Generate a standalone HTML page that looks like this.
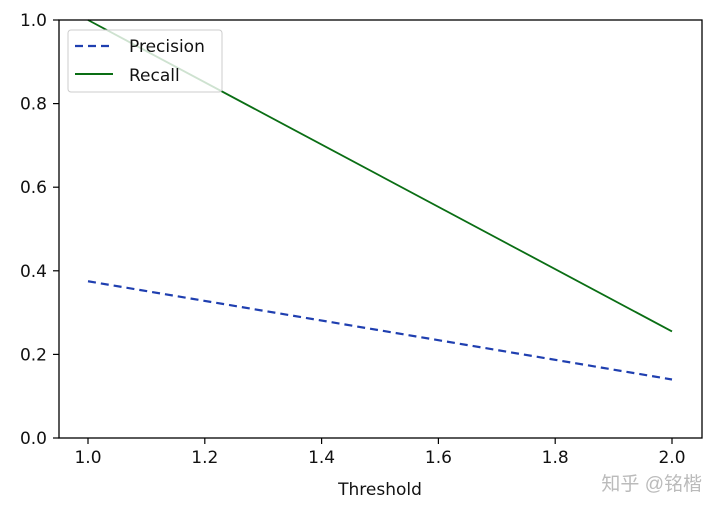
<!DOCTYPE html>
<html><head><meta charset="utf-8"><style>
body{margin:0;background:#fff;width:720px;height:511px;overflow:hidden;font-family:"DejaVu Sans","Liberation Sans",sans-serif}
</style></head><body>
<svg id="chart" width="720" height="511" xmlns="http://www.w3.org/2000/svg">
<rect x="0" y="0" width="720" height="511" fill="#fff"/>
</svg>
<script>
const thresholds=[1.0,2.0];
const precision=[0.375,0.14];
const recall=[1.0,0.255];
const xTicks=[1.0,1.2,1.4,1.6,1.8,2.0];
const yTicks=[0.0,0.2,0.4,0.6,0.8,1.0];
const L=59,R=702,T=20,B=438;
const sx=v=>88+(v-1)*(672-88);
const sy=v=>B-v*(B-T);
const svg=document.getElementById('chart');
const NS='http://www.w3.org/2000/svg';
function mk(tag,attrs,parent){const e=document.createElementNS(NS,tag);for(const k in attrs)e.setAttribute(k,attrs[k]);(parent||svg).appendChild(e);return e;}
const grp=mk('g',{});


xTicks.forEach(t=>{
 const l=mk('line',{x1:sx(t),x2:sx(t),y1:B,y2:B+6,stroke:'#000','stroke-width':1.2});
 
 
 const tx=mk('text',{x:sx(t),y:B+25,'text-anchor':'middle','font-size':17,fill:'#111'});
 tx.textContent=t.toFixed(1);
 
 
});
yTicks.forEach(t=>{
 const l=mk('line',{x1:L-6,x2:L,y1:sy(t),y2:sy(t),stroke:'#000','stroke-width':1.2});
 
 
 const tx=mk('text',{x:L-12,y:sy(t)+6,'text-anchor':'end','font-size':17,fill:'#111'});
 tx.textContent=t.toFixed(1);
 
 
});
const pl=mk('polyline',{points:thresholds.map((x,i)=>sx(x)+','+sy(precision[i])).join(' '),fill:'none',stroke:'#1f3fb0','stroke-width':2.2,'stroke-dasharray':'8,5'});


const rl=mk('polyline',{points:thresholds.map((x,i)=>sx(x)+','+sy(recall[i])).join(' '),fill:'none',stroke:'#0a6e14','stroke-width':1.8});


const frame=mk('rect',{x:L,y:T,width:R-L,height:B-T,fill:'none',stroke:'#000','stroke-width':1.3});


const lg=mk('g',{});


mk('rect',{x:68,y:30,width:154,height:62,rx:3,fill:'rgba(255,255,255,0.8)',stroke:'#ccc'},lg);
const e1=mk('line',{x1:75,x2:113,y1:46,y2:46,stroke:'#1f3fb0','stroke-width':2.2,'stroke-dasharray':'8,5'},lg);


const t1=mk('text',{x:129,y:52,'font-size':17,fill:'#111'},lg);t1.textContent='Precision';


const e2=mk('line',{x1:75,x2:113,y1:74,y2:74,stroke:'#0a6e14','stroke-width':2},lg);


const t2=mk('text',{x:129,y:81,'font-size':17,fill:'#111'},lg);t2.textContent='Recall';


const xt=mk('text',{x:380,y:495,'text-anchor':'middle','font-size':17,fill:'#111'});xt.textContent='Threshold';


const wm=mk('text',{x:702,y:490,'text-anchor':'end','font-size':19,fill:'#bbb','font-family':'"Liberation Sans","Noto Sans CJK SC",sans-serif'});wm.textContent='知乎 @铭楷';


</script>
</body></html>
